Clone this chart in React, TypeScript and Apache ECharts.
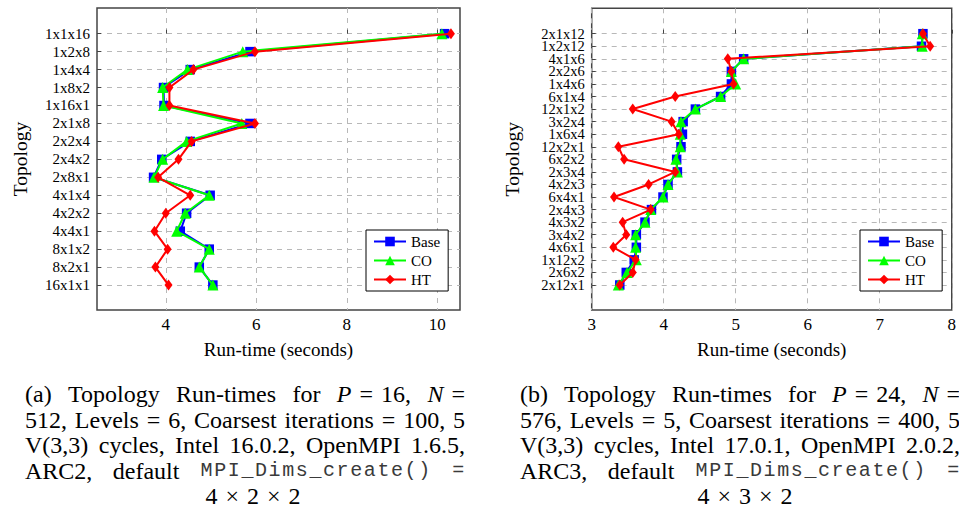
import React, { useEffect, useRef } from "react";
import * as echarts from "echarts";

// ---------- data ----------
const seriesNames = ["Base", "CO", "HT"];

const topologiesA = ["1x1x16", "1x2x8", "1x4x4", "1x8x2", "1x16x1", "2x1x8", "2x2x4", "2x4x2", "2x8x1", "4x1x4", "4x2x2", "4x4x1", "8x1x2", "8x2x1", "16x1x1"];
const baseA = [10.16, 5.86, 4.54, 3.95, 3.96, 5.86, 4.54, 3.91, 3.73, 4.98, 4.46, 4.32, 4.96, 4.74, 5.04];
const coA = [10.1, 5.7, 4.48, 3.93, 3.95, 5.68, 4.46, 3.93, 3.74, 4.96, 4.43, 4.24, 4.96, 4.74, 5.04];
const htA = [10.3, 5.97, 4.61, 4.08, 4.08, 5.97, 4.57, 4.28, 3.83, 4.54, 4.0, 3.75, 4.04, 3.77, 4.06];
const xTicksA = [4, 6, 8, 10];

const topologiesB = ["2x1x12", "1x2x12", "4x1x6", "2x2x6", "1x4x6", "6x1x4", "12x1x2", "3x2x4", "1x6x4", "12x2x1", "6x2x2", "2x3x4", "4x2x3", "6x4x1", "2x4x3", "4x3x2", "3x4x2", "4x6x1", "1x12x2", "2x6x2", "2x12x1"];
const baseB = [7.6, 7.58, 5.11, 4.94, 4.94, 4.79, 4.44, 4.27, 4.26, 4.24, 4.18, 4.19, 4.06, 3.99, 3.83, 3.74, 3.62, 3.62, 3.59, 3.48, 3.39];
const coB = [7.59, 7.59, 5.11, 4.94, 5.0, 4.79, 4.44, 4.24, 4.23, 4.23, 4.17, 4.19, 4.06, 3.99, 3.82, 3.74, 3.61, 3.61, 3.62, 3.49, 3.37];
const htB = [7.6, 7.7, 4.89, 4.94, 4.97, 4.16, 3.57, 4.11, 4.21, 3.37, 3.45, 4.16, 3.79, 3.31, 3.82, 3.43, 3.48, 3.3, 3.61, 3.57, 3.39];
const xTicksB = [3, 4, 5, 6, 7, 8];

const yAxisTitle = "Topology";
const xAxisTitle = "Run-time (seconds)";

// caption markup: space = justifiable gap, ~ = fixed space, ^ = math (thick) space, *x* = italic, `x` = typewriter
const captionA = [
  "(a) Topology Run-times for *P*^=^16, *N*^=",
  "512, Levels = 6, Coarsest iterations = 100, 5",
  "V(3,3) cycles, Intel 16.0.2, OpenMPI 1.6.5,",
  "ARC2, default `MPI_Dims_create()` `=`",
  "4^×^2^×^2",
];
const captionB = [
  "(b) Topology Run-times for *P*^=^24, *N*^=",
  "576, Levels = 5, Coarsest iterations = 400, 5",
  "V(3,3) cycles, Intel 17.0.1, OpenMPI 2.0.2,",
  "ARC3, default `MPI_Dims_create()` `=`",
  "4^×^3^×^2",
];

// ---------- styling ----------
const SERIF = "Liberation Serif, serif";
const MONO = "Liberation Mono, monospace";
const colors = ["#0000ff", "#00ff00", "#ff0000"];
const symbols = ["rect", "triangle", "diamond"];
const symbolSizes: any[] = [9.5, 11, [8, 11]];
const RM = 24;
const TT = 20;
const TT_ADV = 13.6; // typewriter advance per character (wide-set like the reference)
const captionYs = [394, 419.5, 445, 470.5, 496];

type Seg = { t: string; s: "rm" | "it" | "tt" };

function clean(t: string) {
  return t.replace(/~/g, " ").replace(/\^/g, "\u2004");
}

function parseToken(tok: string): Seg[] {
  const out: Seg[] = [];
  const re = /\*([^*]+)\*|`([^`]+)`|([^*`]+)/g;
  let m: RegExpExecArray | null;
  while ((m = re.exec(tok))) {
    if (m[1]) out.push({ t: clean(m[1]), s: "it" });
    else if (m[2]) out.push({ t: clean(m[2]), s: "tt" });
    else out.push({ t: clean(m[3]), s: "rm" });
  }
  return out;
}

function fontOf(s: Seg["s"]) {
  if (s === "it") return `italic ${RM}px ${SERIF}`;
  return `${RM}px ${SERIF}`;
}

function textEl(x: number, y: number, text: string, s: Seg["s"], align = "left") {
  return {
    type: "text",
    x,
    y,
    silent: true,
    style: {
      text,
      fill: s === "tt" ? "#3a3a3a" : "#000",
      fontFamily: s === "tt" ? MONO : SERIF,
      fontSize: s === "tt" ? TT : RM,
      fontStyle: s === "it" ? "italic" : "normal",
      align,
      verticalAlign: "middle",
    },
  };
}

function captionElements(lines: string[], x0: number, width: number, centerX: number) {
  const ctx = document.createElement("canvas").getContext("2d")!;
  const measure = (seg: Seg) => {
    if (seg.s === "tt") return seg.t.length * TT_ADV;
    ctx.font = fontOf(seg.s);
    return ctx.measureText(seg.t).width;
  };
  const els: any[] = [];
  lines.forEach((line, li) => {
    const centered = li === lines.length - 1;
    const toks = line.split(" ").map(parseToken);
    const widths = toks.map((t) => t.reduce((a, s) => a + measure(s), 0));
    const total = widths.reduce((a, b) => a + b, 0);
    let x: number;
    let gap: number;
    if (centered) {
      gap = measure({ t: " ", s: "rm" });
      x = centerX - (total + gap * (toks.length - 1)) / 2;
    } else {
      gap = toks.length > 1 ? (width - total) / (toks.length - 1) : 0;
      x = x0;
    }
    toks.forEach((segs, ti) => {
      let sx = x;
      segs.forEach((seg) => {
        if (seg.s === "tt") {
          // place each typewriter glyph in its own fixed-width cell
          Array.from(seg.t).forEach((ch, ci) => {
            els.push(textEl(sx + ci * TT_ADV + TT_ADV / 2, captionYs[li], ch, "tt", "center"));
          });
        } else {
          els.push(textEl(sx, captionYs[li], seg.t, seg.s));
        }
        sx += measure(seg);
      });
      x += widths[ti] + gap;
    });
  });
  return els;
}

function makeSeries(name: string, vals: number[], k: number, axis: number) {
  return {
    type: "line",
    name,
    xAxisIndex: axis,
    yAxisIndex: axis,
    data: vals.map((v, i) => [v, i]),
    symbol: symbols[k],
    symbolSize: symbolSizes[k],
    showAllSymbol: true,
    lineStyle: { color: colors[k], width: 2 },
    itemStyle: { color: colors[k] },
    z: 2 + k,
    silent: true,
  };
}

function makeXAxis(grid: number, min: number, max: number, ticks: number[], interval?: number) {
  const ax: any = {
    type: "value",
    gridIndex: grid,
    min,
    max,
    name: xAxisTitle,
    nameLocation: "middle",
    nameGap: 30,
    nameTextStyle: { fontFamily: SERIF, fontSize: 19, color: "#000" },
    axisLine: { show: false },
    axisTick: { show: true, inside: true, length: 4, customValues: ticks, lineStyle: { color: "#444" } },
    axisLabel: { customValues: ticks, fontFamily: SERIF, fontSize: 17, color: "#000", margin: 6, showMinLabel: true, showMaxLabel: true },
    splitLine: { show: true, lineStyle: { color: "#b8b8b8", type: [5, 5], width: 1 } },
  };
  if (interval) ax.interval = interval;
  return ax;
}

function makeYAxis(grid: number, cats: string[], padTop: number, padBottom: number, nameGap: number, fontSize: number) {
  const idx = cats.map((_, i) => i);
  // empty guard labels just inside each end keep the min/max overlap check from hiding real labels
  const labelValues = [-padTop + 0.3, ...idx, cats.length - 1 + padBottom - 0.3];
  return {
    type: "value",
    gridIndex: grid,
    inverse: true,
    min: -padTop,
    max: cats.length - 1 + padBottom,
    name: yAxisTitle,
    nameLocation: "middle",
    nameRotate: 90,
    nameGap,
    nameTextStyle: { fontFamily: SERIF, fontSize: 19.5, color: "#000" },
    axisLine: { show: false },
    axisTick: { show: true, inside: true, length: 4, customValues: idx, lineStyle: { color: "#444" } },
    axisLabel: {
      customValues: labelValues,
      formatter: (v: number) => (Number.isInteger(v) ? cats[v] ?? "" : ""),
      fontFamily: SERIF,
      fontSize,
      lineHeight: 12,
      color: "#000",
      margin: 7,
      showMinLabel: true,
      showMaxLabel: true,
      hideOverlap: false,
    },
    splitLine: { show: true, lineStyle: { color: "#b8b8b8", type: [5, 5], width: 1 } },
  };
}

function makeLegend(left: number) {
  return {
    data: seriesNames,
    orient: "vertical",
    left,
    top: 230,
    backgroundColor: "#fff",
    borderColor: "#000",
    borderWidth: 1,
    borderRadius: 0,
    padding: [4, 8, 4, 7],
    itemGap: 4,
    itemWidth: 32,
    itemHeight: 12,
    selectedMode: false,
    textStyle: { fontFamily: SERIF, fontSize: 15, color: "#000", width: 32, align: "center" },
  };
}

export default function App() {
  const ref = useRef<HTMLDivElement>(null);
  useEffect(() => {
    if (!ref.current) return;
    const chart = echarts.init(ref.current, undefined, { renderer: "svg" });
    const gridStyle = { show: true, borderColor: "#444", borderWidth: 1.5, backgroundColor: "transparent" };
    const option: any = {
      animation: false,
      backgroundColor: "#fff",
      textStyle: { fontFamily: SERIF },
      grid: [
        { left: 97, top: 8, width: 363, height: 302, ...gridStyle },
        { left: 591.7, top: 8.3, width: 363.3, height: 301.7, ...gridStyle },
      ],
      xAxis: [makeXAxis(0, 2.48, 10.5, xTicksA), makeXAxis(1, 3, 8, xTicksB, 1)],
      yAxis: [
        makeYAxis(0, topologiesA, 1.43, 1.39, 67, 15),
        makeYAxis(1, topologiesB, 2.02, 1.99, 69, 14.5),
      ],
      legend: [makeLegend(366), makeLegend(860)],
      series: [
        makeSeries(seriesNames[0], baseA, 0, 0),
        makeSeries(seriesNames[1], coA, 1, 0),
        makeSeries(seriesNames[2], htA, 2, 0),
        makeSeries(seriesNames[0], baseB, 0, 1),
        makeSeries(seriesNames[1], coB, 1, 1),
        makeSeries(seriesNames[2], htB, 2, 1),
      ],
      graphic: [
        ...captionElements(captionA, 25, 440, 253),
        ...captionElements(captionB, 520, 440, 745),
      ],
    };
    chart.setOption(option);
    return () => chart.dispose();
  }, []);
  return (
    <div
      ref={ref}
      style={{ position: "absolute", left: 0, top: 0, width: 959, height: 510, overflow: "hidden", background: "#fff" }}
    />
  );
}
